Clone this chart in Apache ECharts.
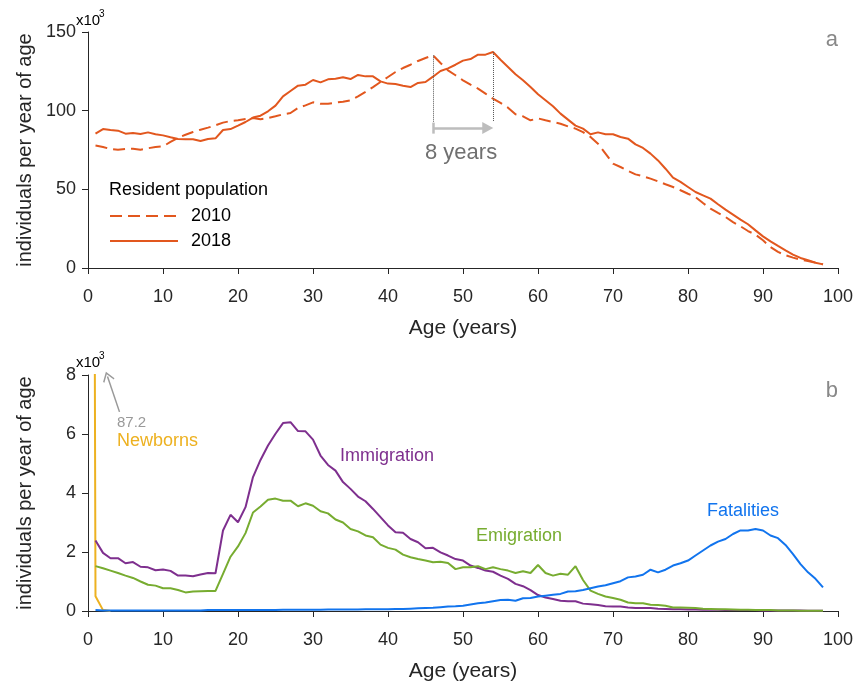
<!DOCTYPE html>
<html>
<head>
<meta charset="utf-8">
<script src="https://cdn.jsdelivr.net/npm/echarts@6/dist/echarts.min.js"></script>
<style>
  html, body { margin: 0; padding: 0; background: #fff; }
  #chart { width: 860px; height: 684px; }
</style>
</head>
<body>
<div id="chart"></div>
<script>
// resident population per year of age, x10^3, ages 1..98
var pop2010 = [
  77.8, 76.9, 75.6, 75.2, 75.6, 75.8, 75.2, 76.1, 76.9, 77.3,
  80.1, 82.8, 84.7, 86.4, 87.9, 89.2, 90.7, 92.4, 93.4, 93.9,
  94.7, 95.3, 94.5, 95.3, 96.4, 97.7, 98.5, 101.7, 103.4, 105.3,
  104.4, 104.4, 105.1, 105.7, 106.6, 109.1, 111.9, 115.0, 118.2, 121.4,
  124.6, 127.1, 129.2, 131.6, 133.5, 135.2, 130.3, 125.6, 122.5, 119.3,
  116.5, 114.0, 110.8, 107.6, 104.9, 101.9, 97.7, 96.4, 93.9, 95.1,
  93.9, 92.8, 91.7, 90.0, 88.6, 86.4, 83.3, 79.0, 72.7, 66.3,
  64.2, 61.7, 59.5, 58.3, 56.8, 55.1, 53.2, 51.5, 49.4, 47.2,
  45.1, 41.3, 37.7, 35.0, 32.4, 29.2, 26.5, 23.5, 21.2, 17.6,
  13.3, 10.2, 8.1, 6.6, 5.3, 4.4, 3.4, 2.3
];
var pop2018 = [
  85.4, 88.3, 87.7, 87.3, 85.4, 85.8, 85.2, 86.2, 85.0, 84.3,
  83.1, 82.0, 81.8, 81.8, 80.7, 82.0, 82.4, 87.7, 88.3, 90.5,
  92.8, 95.6, 96.8, 99.6, 103.2, 109.1, 112.5, 115.9, 116.5, 119.5,
  118.0, 119.9, 120.3, 121.2, 120.1, 122.7, 121.8, 121.8, 118.6, 117.2,
  116.9, 115.9, 115.0, 117.6, 118.2, 121.6, 125.2, 126.9, 129.2, 131.8,
  132.8, 135.6, 135.6, 137.3, 132.4, 127.8, 123.1, 119.3, 115.0, 110.4,
  106.6, 102.8, 98.1, 94.3, 90.5, 88.6, 85.0, 86.2, 85.0, 85.0,
  83.3, 82.2, 78.6, 76.3, 72.7, 68.4, 63.1, 57.4, 54.7, 51.5,
  48.3, 46.2, 44.1, 40.5, 37.1, 33.9, 30.7, 27.8, 23.9, 20.1,
  16.9, 14.0, 11.2, 8.5, 6.4, 4.9, 3.4, 2.3
];

// flows per year of age, x10^3
var newbornAges = [0, 1, 2, 3];
var newborns = [87.2, 0.5, 0.03, 0.0];
var immigration = [
  2.39, 1.97, 1.79, 1.79, 1.62, 1.66, 1.50, 1.48, 1.38, 1.41,
  1.36, 1.20, 1.20, 1.18, 1.24, 1.29, 1.28, 2.73, 3.26, 3.01,
  3.52, 4.54, 5.12, 5.61, 6.01, 6.37, 6.40, 6.10, 6.09, 5.81,
  5.27, 4.95, 4.76, 4.37, 4.14, 3.88, 3.72, 3.46, 3.18, 2.90,
  2.67, 2.65, 2.44, 2.33, 2.13, 2.14, 1.99, 1.88, 1.76, 1.71,
  1.54, 1.46, 1.37, 1.33, 1.20, 1.09, 0.92, 0.84, 0.71, 0.54,
  0.46, 0.41, 0.35, 0.33, 0.33, 0.25, 0.23, 0.20, 0.16, 0.15,
  0.15, 0.12, 0.10, 0.10, 0.10, 0.08, 0.07, 0.06, 0.06, 0.05,
  0.05, 0.04, 0.04, 0.04, 0.03, 0.03, 0.03, 0.03, 0.03, 0.02,
  0.02, 0.02, 0.02, 0.02, 0.02, 0.01, 0.01, 0.01
];
var emigration = [
  1.52, 1.45, 1.37, 1.29, 1.20, 1.12, 1.00, 0.89, 0.86, 0.77,
  0.77, 0.71, 0.63, 0.66, 0.67, 0.68, 0.68, 1.26, 1.84, 2.19,
  2.64, 3.34, 3.54, 3.77, 3.81, 3.74, 3.74, 3.55, 3.65, 3.57,
  3.38, 3.31, 3.10, 3.00, 2.78, 2.70, 2.56, 2.50, 2.25, 2.14,
  2.08, 1.91, 1.82, 1.76, 1.71, 1.65, 1.67, 1.63, 1.42, 1.48,
  1.48, 1.52, 1.42, 1.48, 1.42, 1.37, 1.29, 1.35, 1.29, 1.56,
  1.29, 1.20, 1.26, 1.23, 1.52, 1.05, 0.69, 0.58, 0.49, 0.44,
  0.38, 0.29, 0.26, 0.26, 0.21, 0.20, 0.18, 0.12, 0.12, 0.11,
  0.10, 0.08, 0.07, 0.06, 0.06, 0.05, 0.04, 0.04, 0.03, 0.03,
  0.03, 0.02, 0.02, 0.02, 0.01, 0.01, 0.01, 0.01
];
var fatalities = [
  0.03, 0.02, 0.02, 0.02, 0.02, 0.02, 0.02, 0.02, 0.02, 0.02,
  0.02, 0.02, 0.02, 0.02, 0.02, 0.03, 0.03, 0.03, 0.03, 0.03,
  0.03, 0.03, 0.03, 0.03, 0.03, 0.04, 0.04, 0.04, 0.04, 0.04,
  0.04, 0.05, 0.05, 0.05, 0.05, 0.05, 0.06, 0.06, 0.06, 0.06,
  0.07, 0.07, 0.08, 0.09, 0.10, 0.11, 0.13, 0.15, 0.16, 0.18,
  0.22, 0.26, 0.29, 0.33, 0.37, 0.38, 0.35, 0.43, 0.44, 0.49,
  0.52, 0.55, 0.58, 0.66, 0.67, 0.71, 0.77, 0.83, 0.87, 0.94,
  1.01, 1.14, 1.17, 1.23, 1.40, 1.31, 1.40, 1.54, 1.62, 1.71,
  1.88, 2.05, 2.22, 2.35, 2.44, 2.61, 2.73, 2.73, 2.78, 2.73,
  2.56, 2.47, 2.24, 1.93, 1.59, 1.31, 1.09, 0.80
];

// annotation anchors (data units)
var shiftAges = [46, 54];      // peak of 2010 -> peak of 2018
var shiftArrowY = 89;
var newbornPeak = '87.2';

var FONT = '"Liberation Sans", Arial, Helvetica, sans-serif';
var AX = '#262626';
var C_POP = '#e2571e';
var C_NEW = '#edb120';
var C_IMM = '#7e2f8e';
var C_EMI = '#77ac30';
var C_FAT = '#1174ee';

function byAge(vals) {
  return vals.map(function (v, i) { return [i + 1, v]; });
}

function xAxisCfg(gi) {
  return {
    type: 'value', gridIndex: gi, min: 0, max: 100, interval: 10,
    name: 'Age (years)', nameLocation: 'middle', nameGap: 50,
    nameTextStyle: { fontSize: 21, color: AX, fontFamily: FONT },
    axisLine: { show: true, onZero: false, lineStyle: { color: AX, width: 1 } },
    axisTick: { show: true, length: 6, lineStyle: { color: AX } },
    axisLabel: { fontSize: 18, color: AX, margin: 20, fontFamily: FONT },
    splitLine: { show: false }
  };
}
function yAxisCfg(gi, max, step) {
  return {
    type: 'value', gridIndex: gi, min: 0, max: max, interval: step,
    name: 'individuals per year of age', nameLocation: 'middle', nameGap: 53,
    nameTextStyle: { fontSize: 20, color: AX, fontFamily: FONT },
    axisLine: { show: true, lineStyle: { color: AX, width: 1 } },
    axisTick: { show: true, length: 6, lineStyle: { color: AX } },
    axisLabel: { fontSize: 18, color: AX, margin: 12, fontFamily: FONT },
    splitLine: { show: false }
  };
}
function lineSeries(name, xi, data, color, dash) {
  return {
    name: name, type: 'line', xAxisIndex: xi, yAxisIndex: xi,
    data: data, symbol: 'none', showSymbol: false,
    lineStyle: { color: color, width: 2, type: dash || 'solid' },
    itemStyle: { color: color },
    clip: true, silent: true
  };
}

var myChart = echarts.init(document.getElementById('chart'), null, { renderer: 'canvas' });

var s2018 = lineSeries('2018', 0, byAge(pop2018), C_POP);
s2018.markLine = {
  silent: true, animation: false, symbol: ['none', 'none'], label: { show: false },
  data: [
    [{ coord: [shiftAges[0], pop2010[shiftAges[0] - 1]], lineStyle: { type: 'dotted', color: '#555', width: 1 } },
     { coord: [shiftAges[0], 92.8] }],
    [{ coord: [shiftAges[1], pop2018[shiftAges[1] - 1]], lineStyle: { type: 'dotted', color: '#555', width: 1 } },
     { coord: [shiftAges[1], 92.8] }],
    [{ coord: [shiftAges[0], 85.4], lineStyle: { type: 'solid', color: '#bdbdbd', width: 2.5 } },
     { coord: [shiftAges[0], 92.4] }],
    [{ coord: [shiftAges[0], shiftArrowY], lineStyle: { type: 'solid', color: '#bdbdbd', width: 2.5 }, symbol: 'none' },
     { coord: [shiftAges[1] - 0.7, shiftArrowY], symbol: 'triangle', symbolSize: [12, 11] }]
  ]
};

var sNew = lineSeries('Newborns', 1, newbornAges.map(function (a, i) { return [a, newborns[i]]; }), C_NEW);
sNew.markLine = {
  silent: true, animation: false, symbol: ['none', 'none'], label: { show: false },
  data: [
    [{ coord: [4.2, 6.75], lineStyle: { type: 'solid', color: '#999', width: 1.5 }, symbol: 'none' },
     { coord: [2.6, 7.95], symbol: 'path://M0,0 L8,10 L6.6,11.2 L0,3 L-6.6,11.2 L-8,10 Z', symbolSize: [12, 10] }]
  ]
};

function txt(x, y, s, size, color, align) {
  return {
    type: 'text', x: x, y: y, silent: true,
    style: { text: s, fontSize: size, fontFamily: FONT, fill: color, align: align || 'left', verticalAlign: 'middle' }
  };
}

var option = {
  animation: false,
  backgroundColor: '#fff',
  grid: [
    { left: 88, right: 22, top: 32, height: 236 },
    { left: 88, right: 22, top: 375, height: 236 }
  ],
  xAxis: [xAxisCfg(0), xAxisCfg(1)],
  yAxis: [yAxisCfg(0, 150, 50), yAxisCfg(1, 8, 2)],
  legend: {
    data: ['2010', '2018'], orient: 'vertical', left: 109, top: 207,
    itemWidth: 68, itemHeight: 14, itemGap: 7, padding: 0,
    selectedMode: false,
    itemStyle: { opacity: 0 },
    textStyle: { fontSize: 18, color: '#000', fontFamily: FONT, padding: [0, 0, 0, 8] }
  },
  series: [
    lineSeries('2010', 0, byAge(pop2010), C_POP, [12, 6]),
    s2018,
    sNew,
    lineSeries('Immigration', 1, byAge(immigration), C_IMM),
    lineSeries('Emigration', 1, byAge(emigration), C_EMI),
    lineSeries('Fatalities', 1, byAge(fatalities), C_FAT)
  ],
  graphic: [
    txt(76, 21, 'x10', 15, '#000'),
    txt(99, 14, '3', 10, '#000'),
    txt(76, 363, 'x10', 15, '#000'),
    txt(99, 356, '3', 10, '#000'),
    txt(838, 40, 'a', 22, '#888', 'right'),
    txt(838, 391, 'b', 22, '#888', 'right'),
    txt(109, 190, 'Resident population', 18, '#000'),
    txt(425, 153, '8 years', 22, '#707070'),
    txt(117, 423, newbornPeak, 15, '#999'),
    txt(117, 441, 'Newborns', 18, C_NEW),
    txt(340, 456, 'Immigration', 18, C_IMM),
    txt(476, 536, 'Emigration', 18, C_EMI),
    txt(707, 511, 'Fatalities', 18, C_FAT)
  ]
};

myChart.setOption(option);
</script>
</body>
</html>
